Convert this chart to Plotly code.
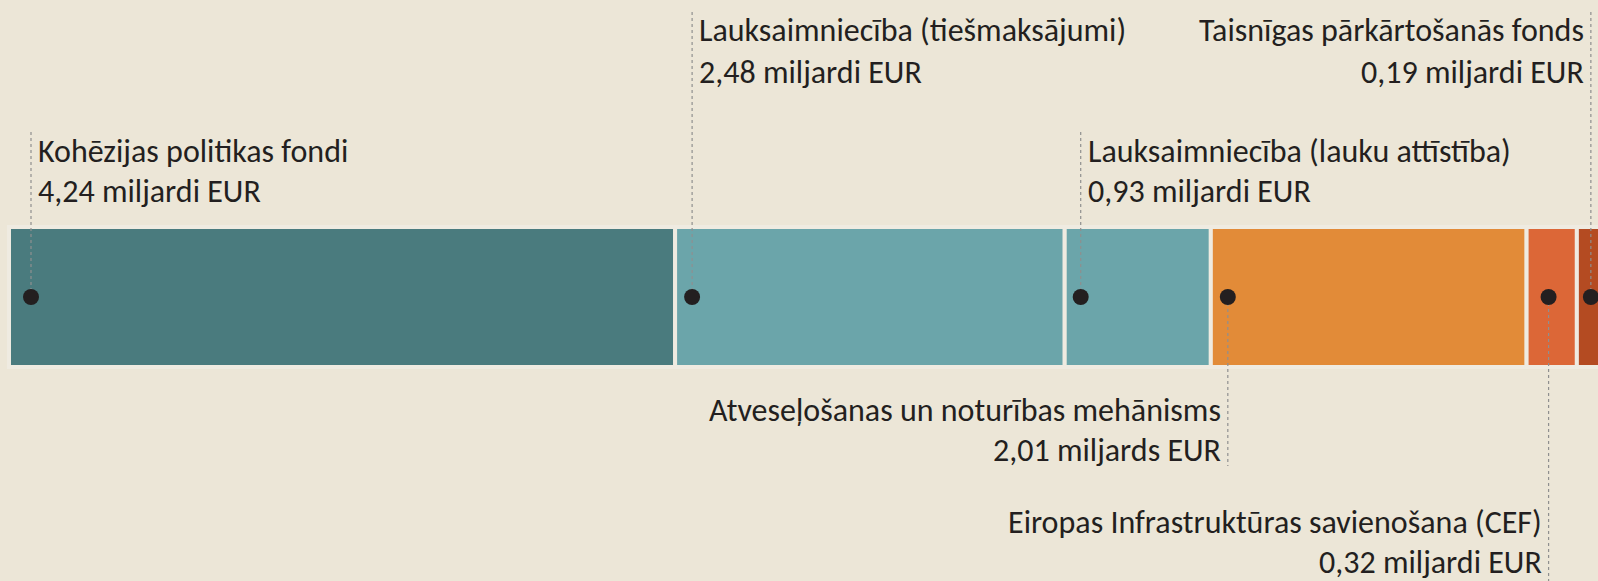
import plotly.graph_objects as go
import numpy as np

# ---- data ----
categories = [
    "Kohēzijas politikas fondi",
    "Lauksaimniecība (tiešmaksājumi)",
    "Lauksaimniecība (lauku attīstība)",
    "Atveseļošanas un noturības mehānisms",
    "Eiropas Infrastruktūras savienošana (CEF)",
    "Taisnīgas pārkārtošanās fonds",
]
values = [4.24, 2.48, 0.93, 2.01, 0.32, 0.19]
value_labels = [
    "4,24 miljardi EUR",
    "2,48 miljardi EUR",
    "0,93 miljardi EUR",
    "2,01 miljards EUR",
    "0,32 miljardi EUR",
    "0,19 miljardi EUR",
]

# ---- styling ----
colors = ["#4A7B7E", "#6BA5AA", "#6BA5AA", "#E28B38", "#DC6737", "#B44B22"]
BG = "#ECE6D7"
TEXT = "#231F20"
FONT = "Carlito, Calibri, Lato, sans-serif"
FS = 32

W, H = 1598, 581
X0PX, XSCALE = 9, 157.1          # pixel of x=0, px per unit
BAR_TOP, BAR_H = 227, 140         # bar edges in px (incl. border)

def py(p):
    return 0.5 - (p - BAR_TOP) / BAR_H

x_range = [-X0PX / XSCALE, (W - X0PX) / XSCALE]
y_range = [py(H), py(0)]

# label layout: alignment, leader end pixel, line centers (px), dot inset (px)
align = ["left", "left", "left", "right", "right", "right"]
leader_end = [130, 10, 132, 466, 600, 10]
line1_px = [151, 30, 151, 410, 522, 30]
line2_px = [191, 72, 191, 450, 562, 72]
dot_inset_px = [22, 17, 16, 17, 22, 14]

starts = np.concatenate([[0], np.cumsum(values)[:-1]])

fig = go.Figure()
for i, (c, v) in enumerate(zip(categories, values)):
    fig.add_trace(go.Bar(
        x=[v], base=[starts[i]], y=[0], orientation="h", width=1,
        marker=dict(color=colors[i], line=dict(color="#EFEBE1", width=4)),
        name=c, showlegend=False, hoverinfo="skip",
    ))

dot_x = starts + np.array(dot_inset_px) / XSCALE
for i in range(len(values)):
    fig.add_trace(go.Scatter(
        x=[dot_x[i], dot_x[i]], y=[0, py(leader_end[i])], mode="lines",
        line=dict(color="#8F8F8F", width=1.2, dash="dot"),
        showlegend=False, hoverinfo="skip",
    ))
fig.add_trace(go.Scatter(
    x=dot_x, y=[0] * len(values), mode="markers",
    marker=dict(color=TEXT, size=16), showlegend=False, hoverinfo="skip",
))

for i in range(len(values)):
    left = align[i] == "left"
    for txt, p in ((categories[i], line1_px[i]), (value_labels[i], line2_px[i])):
        fig.add_annotation(
            x=dot_x[i], y=py(p), xref="x", yref="y", text=txt, showarrow=False,
            xanchor="left" if left else "right", yanchor="middle",
            xshift=5 if left else -5, align=align[i],
            font=dict(family=FONT, size=FS, color=TEXT),
        )

fig.update_layout(
    width=W, height=H, margin=dict(l=0, r=0, t=0, b=0),
    paper_bgcolor=BG, plot_bgcolor=BG, barmode="overlay",
    xaxis=dict(range=x_range, visible=False, fixedrange=True),
    yaxis=dict(range=y_range, visible=False, fixedrange=True),
)
fig.write_html(
    "out.html",
    config={"displayModeBar": False},
    post_script="document.body.style.margin='0';document.body.style.overflow='hidden';",
)
